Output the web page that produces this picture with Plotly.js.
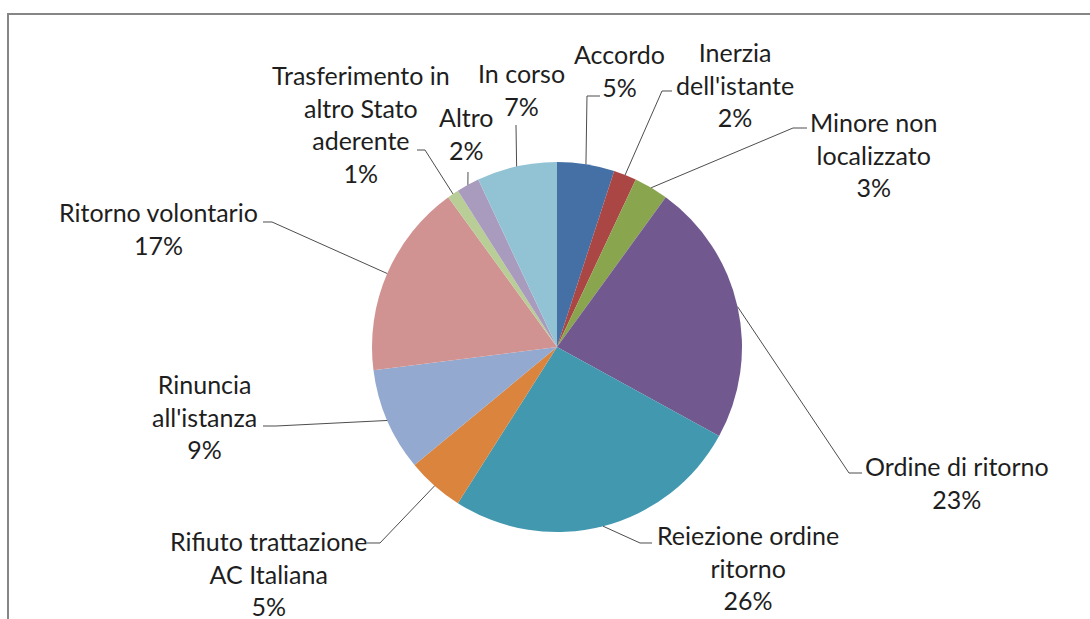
<!DOCTYPE html>
<html><head><meta charset="utf-8">
<script src="https://cdn.plot.ly/plotly-3.0.1.min.js"></script>
<style>html,body{margin:0;padding:0;background:#fff;}#chart{width:1090px;height:619px;}</style>
</head><body><div id="chart"></div>
<script>
// ---- data ----
const categories = ["Accordo", "Inerzia<br>dell'istante", "Minore non<br>localizzato", "Ordine di ritorno",
  "Reiezione ordine<br>ritorno", "Rifiuto trattazione<br>AC Italiana", "Rinuncia<br>all'istanza",
  "Ritorno volontario", "Trasferimento in<br>altro Stato<br>aderente", "Altro", "In corso"];
const values = [5, 2, 3, 23, 26, 5, 9, 17, 1, 2, 7];
const colors = ["#4570A6", "#AA4643", "#89A54E", "#71588F", "#4198AF", "#DB843D",
  "#93A9CF", "#D19392", "#B9CD96", "#A99BBD", "#92C3D4"];

// ---- layout (pixels) ----
const W = 1090, H = 619, CX = 557, CY = 347, R = 185;
const labelPos = [[619,70],[735,84],[873,154],[957,482],[748,567],[268,573],[204,416],[158,228],[361,124],[466,133],[521,90]];
const leaderStart = [[600,96],[672,91],[807,128],[862,473],[652,543],[367,543],[263,426],[263,222],[417,150],[468,172],[516,125]];
const leaderElbow = [[587,96],[662,91],[793,128],[849,473],[640,543],[380,543],[276,426],[272,222],[425,150],null,null];

const px = x => x / W, py = y => 1 - y / H;
const total = values.reduce((a, b) => a + b, 0);

const shapes = [{
  type: 'rect', xref: 'paper', yref: 'paper',
  x0: px(8), x1: 1.02, y0: -0.02, y1: py(14),
  line: {color: '#868686', width: 2}, fillcolor: 'rgba(0,0,0,0)'
}];
const annotations = [];
let cum = 0;
values.forEach((v, i) => {
  const mid = (cum + v / 2) / total;
  cum += v;
  const th = 2 * Math.PI * mid;
  const ex = CX + R * Math.sin(th), ey = CY - R * Math.cos(th);
  const pts = [leaderStart[i]];
  if (leaderElbow[i]) pts.push(leaderElbow[i]);
  pts.push([ex, ey]);
  const path = pts.map((p, k) => (k ? 'L' : 'M') + px(p[0]).toFixed(5) + ',' + py(p[1]).toFixed(5)).join(' ');
  shapes.push({type: 'path', xref: 'paper', yref: 'paper', path: path, line: {color: '#4d4d4d', width: 1}});
  annotations.push({
    xref: 'paper', yref: 'paper', x: px(labelPos[i][0]), y: py(labelPos[i][1]),
    xanchor: 'center', yanchor: 'middle', align: 'center', showarrow: false,
    text: categories[i] + '<br>' + Math.round(v / total * 100) + '%',
    font: {family: 'Lato, "Liberation Sans", sans-serif', size: 25, color: '#1e1e1e'}
  });
});

const trace = {
  type: 'pie',
  labels: categories.map(c => c.replace(/<br>/g, ' ')),
  values: values,
  sort: false, direction: 'clockwise', rotation: 0,
  textinfo: 'none', hoverinfo: 'label+percent',
  marker: {colors: colors, line: {width: 0}},
  showlegend: false,
  domain: {x: [px(CX - R), px(CX + R)], y: [py(CY + R), py(CY - R)]}
};

Plotly.newPlot('chart', [trace], {
  width: W, height: H, margin: {l: 0, r: 0, t: 0, b: 0},
  paper_bgcolor: '#fff', plot_bgcolor: '#fff', showlegend: false,
  shapes: shapes, annotations: annotations
}, {displayModeBar: false, staticPlot: true});
</script></body></html>
